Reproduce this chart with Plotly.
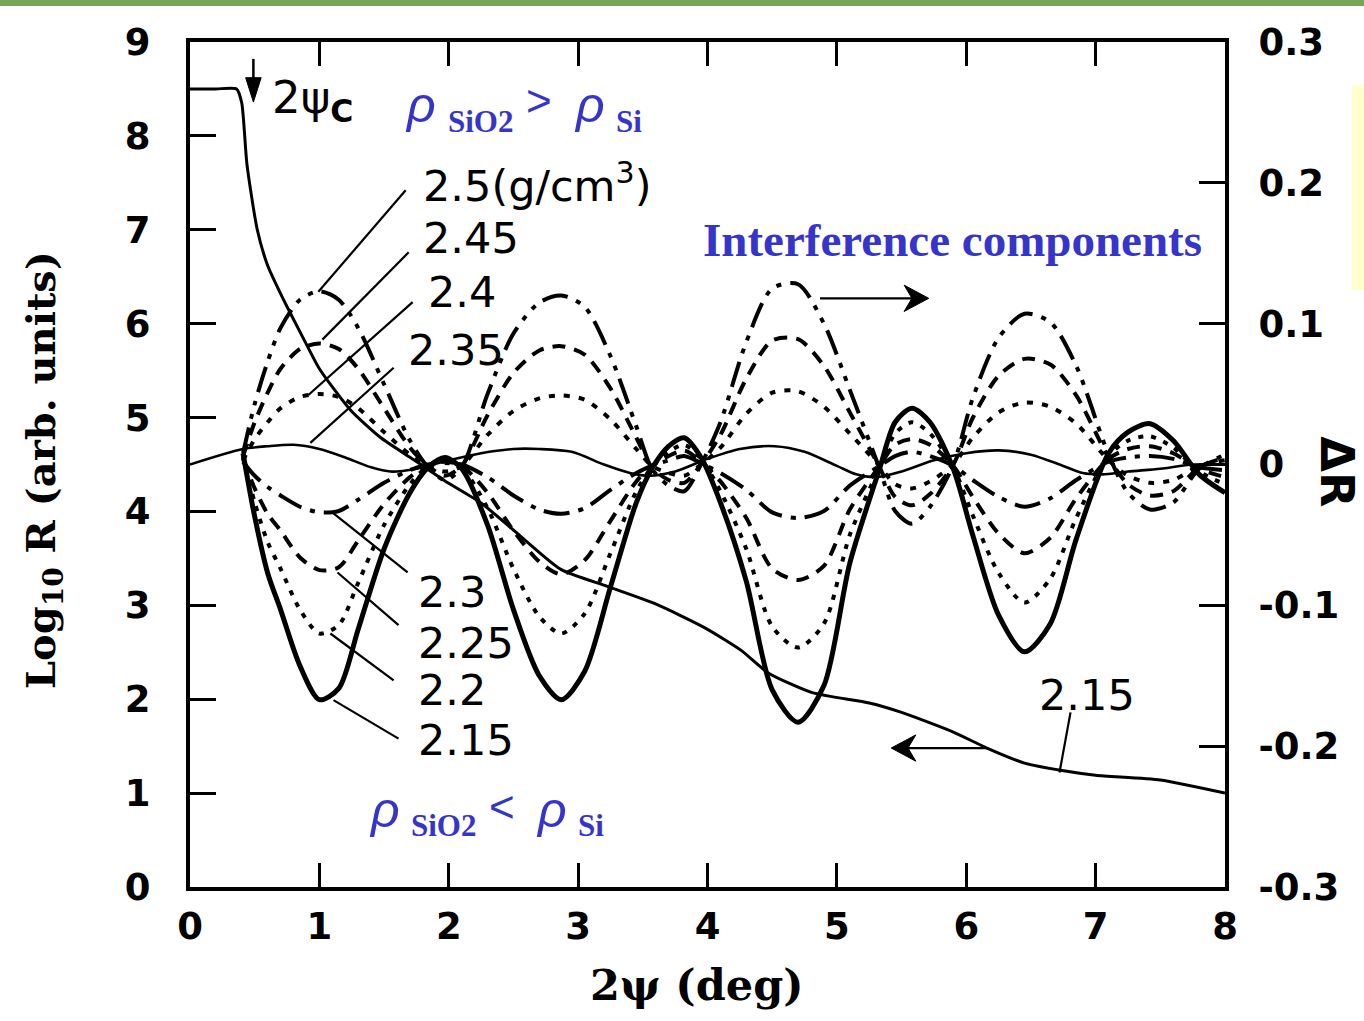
import plotly.graph_objects as go

# ---------------- data ----------------
# common x grid (2psi, deg) for interference components
x_int = [0.41, 0.5, 0.6, 0.7, 0.85, 1.0, 1.15, 1.3, 1.5, 1.7, 1.84, 1.97, 2.1, 2.3, 2.5, 2.7,
         2.87, 3.05, 3.25, 3.45, 3.57, 3.7, 3.82, 3.95, 4.1, 4.3, 4.5, 4.7, 4.9, 5.1, 5.33,
         5.45, 5.58, 5.72, 5.9, 6.05, 6.25, 6.45, 6.65, 6.85, 7.1, 7.25, 7.42, 7.6, 7.8, 8.0]

dR_250 = [0.008, 0.043, 0.073, 0.097, 0.117, 0.123, 0.117, 0.097, 0.057, 0.017, -0.002, -0.011,
          -0.002, 0.050, 0.093, 0.115, 0.120, 0.112, 0.077, 0.027, -0.003, -0.015, -0.019, 0.000,
          0.030, 0.087, 0.125, 0.128, 0.100, 0.053, -0.003, -0.033, -0.042, -0.030, 0.000, 0.047,
          0.090, 0.107, 0.101, 0.070, 0.007, -0.020, -0.032, -0.027, -0.003, 0.007]
dR_245 = [0.006, 0.030, 0.051, 0.068, 0.082, 0.086, 0.082, 0.068, 0.040, 0.012, -0.001, -0.008,
          -0.001, 0.035, 0.065, 0.081, 0.084, 0.078, 0.054, 0.019, -0.002, -0.011, -0.013, 0.000,
          0.021, 0.061, 0.088, 0.089, 0.070, 0.037, -0.002, -0.023, -0.029, -0.021, 0.000, 0.033,
          0.063, 0.075, 0.071, 0.049, 0.005, -0.014, -0.022, -0.019, -0.002, 0.005]
dR_240 = [0.003, 0.018, 0.030, 0.040, 0.048, 0.050, 0.048, 0.040, 0.023, 0.007, -0.001, -0.005,
          -0.001, 0.021, 0.038, 0.047, 0.049, 0.046, 0.032, 0.011, -0.001, -0.006, -0.008, 0.000,
          0.012, 0.036, 0.051, 0.052, 0.041, 0.022, -0.001, -0.014, -0.017, -0.012, 0.000, 0.019,
          0.037, 0.044, 0.041, 0.029, 0.003, -0.008, -0.013, -0.011, -0.001, 0.003]
dR_230 = [0.002, -0.008, -0.016, -0.022, -0.030, -0.034, -0.033, -0.025, -0.013, -0.004, 0.000, 0.001,
          0.000, -0.009, -0.022, -0.032, -0.035, -0.031, -0.018, -0.006, -0.001, 0.003, 0.006, 0.001,
          -0.006, -0.018, -0.034, -0.038, -0.033, -0.015, -0.001, 0.006, 0.009, 0.006, -0.001, -0.011,
          -0.023, -0.030, -0.024, -0.011, 0.002, 0.005, 0.006, 0.004, -0.002, -0.004]
dR_225 = [0.004, -0.017, -0.035, -0.047, -0.066, -0.075, -0.073, -0.054, -0.028, -0.009, -0.001, 0.002,
          -0.001, -0.020, -0.047, -0.069, -0.078, -0.068, -0.040, -0.012, -0.001, 0.006, 0.010, 0.002,
          -0.012, -0.038, -0.074, -0.082, -0.072, -0.032, -0.001, 0.014, 0.018, 0.014, -0.001, -0.023,
          -0.049, -0.063, -0.052, -0.024, 0.004, 0.011, 0.013, 0.008, -0.003, -0.009]
dR_220 = [0.006, -0.027, -0.055, -0.074, -0.103, -0.120, -0.114, -0.084, -0.043, -0.014, -0.001, 0.004,
          -0.002, -0.031, -0.074, -0.108, -0.120, -0.106, -0.063, -0.019, -0.002, 0.009, 0.014, 0.004,
          -0.019, -0.060, -0.115, -0.130, -0.113, -0.050, -0.002, 0.022, 0.030, 0.022, -0.002, -0.036,
          -0.077, -0.098, -0.081, -0.038, 0.006, 0.017, 0.020, 0.012, -0.005, -0.014]
dR_215 = [0.008, -0.037, -0.077, -0.103, -0.143, -0.167, -0.159, -0.117, -0.060, -0.020, -0.002, 0.005,
          -0.003, -0.043, -0.103, -0.150, -0.167, -0.147, -0.087, -0.027, -0.003, 0.013, 0.019, 0.005,
          -0.027, -0.083, -0.160, -0.183, -0.157, -0.070, -0.003, 0.030, 0.040, 0.030, -0.003, -0.050,
          -0.107, -0.133, -0.113, -0.053, 0.008, 0.023, 0.029, 0.017, -0.007, -0.020]

# 2.35 g/cm3 component (thin solid line)
x_235 = [0.0, 0.41, 0.6, 0.8, 1.0, 1.2, 1.4, 1.55, 1.75, 2.0, 2.25, 2.5, 2.7, 2.95, 3.2, 3.4, 3.55,
         3.75, 4.0, 4.25, 4.52, 4.75, 5.0, 5.15, 5.3, 5.5, 5.75, 6.0, 6.25, 6.5, 6.75, 6.9, 7.05,
         7.25, 7.5, 7.75, 8.0]
dR_235 = [0.0, 0.011, 0.013, 0.014, 0.011, 0.005, -0.002, -0.005, -0.003, 0.003, 0.008, 0.011, 0.011,
          0.009, 0.0, -0.006, -0.008, -0.005, 0.004, 0.011, 0.013, 0.009, -0.001, -0.007, -0.009,
          -0.005, 0.003, 0.008, 0.010, 0.007, -0.001, -0.006, -0.007, -0.005, -0.003, 0.0, 0.0]

# reflectivity curve (log10 R) for 2.15 g/cm3
x_R = [0.0, 0.2, 0.36, 0.4, 0.44, 0.52, 0.6, 0.7, 0.78, 0.9, 1.0, 1.24, 1.47, 1.73, 2.0, 2.25, 2.56,
       2.87, 3.23, 3.59, 3.98, 4.26, 4.47, 4.81, 5.25, 5.5, 5.9, 6.16, 6.45, 6.74, 7.0, 7.5, 8.0]
logR = [8.5, 8.5, 8.5, 8.35, 7.7, 7.0, 6.62, 6.32, 6.1, 5.78, 5.52, 5.08, 4.79, 4.55, 4.3, 4.09, 3.73,
        3.38, 3.2, 3.02, 2.76, 2.52, 2.28, 2.07, 1.96, 1.86, 1.65, 1.48, 1.32, 1.24, 1.19, 1.14, 1.0]

x_ticks = [0, 1, 2, 3, 4, 5, 6, 7, 8]
y_ticks = [0, 1, 2, 3, 4, 5, 6, 7, 8, 9]
y2_ticks = [-0.3, -0.2, -0.1, 0.0, 0.1, 0.2, 0.3]
y2_ticktext = ["-0.3", "-0.2", "-0.1", "0", "0.1", "0.2", "0.3"]

# ---------------- figure ----------------
fig = go.Figure()

SM = 0.8
comp = [
    (dR_250, "2.5", 4, "26px,9px,5px,9px,5px,9px"),
    (dR_245, "2.45", 4, "13px,9px"),
    (dR_240, "2.4", 4, "6px,9px"),
    (dR_230, "2.3", 4, "26px,9px,5px,9px"),
    (dR_225, "2.25", 4, "13px,9px"),
    (dR_220, "2.2", 4, "5px,8px"),
    (dR_215, "2.15", 5, "solid"),
]
for vals, name, w, dash in comp:
    fig.add_trace(go.Scatter(x=x_int, y=vals, yaxis="y2", mode="lines", name=name,
                             line=dict(color="black", width=w, dash=dash, shape="spline", smoothing=SM)))

fig.add_trace(go.Scatter(x=x_235, y=dR_235, yaxis="y2", mode="lines", name="2.35",
                         line=dict(color="black", width=2.6, shape="spline", smoothing=SM)))
fig.add_trace(go.Scatter(x=x_R, y=logR, yaxis="y", mode="lines", name="log R",
                         line=dict(color="black", width=3, shape="spline", smoothing=0.6)))

SANS = "DejaVu Sans, Liberation Sans, Arial, sans-serif"
SERIF = "Liberation Serif, Times New Roman, serif"
SLAB = "DejaVu Serif, Liberation Serif, serif"
tickfont = dict(family=SANS, size=37, color="black", weight="bold")

fig.update_layout(
    width=1364, height=1021,
    margin=dict(l=190, r=139, t=42, b=134),
    paper_bgcolor="white", plot_bgcolor="white",
    showlegend=False,
    xaxis=dict(range=[0, 8], tickvals=x_ticks, ticks="inside", ticklen=24, tickwidth=3,
               tickcolor="black", showline=True, linewidth=4, linecolor="black", mirror="ticks",
               showgrid=False, zeroline=False, tickfont=tickfont, ticklabelstandoff=4),
    yaxis=dict(range=[0, 9], tickvals=y_ticks, ticks="inside", ticklen=26, tickwidth=3,
               tickcolor="black", showline=True, linewidth=4, linecolor="black",
               showgrid=False, zeroline=False, tickfont=tickfont, ticklabelstandoff=28),
    yaxis2=dict(range=[-0.3, 0.3], tickvals=y2_ticks, ticktext=y2_ticktext, overlaying="y",
                side="right", ticks="inside", ticklen=26, tickwidth=3, tickcolor="black",
                showline=True, linewidth=4, linecolor="black", showgrid=False, zeroline=False,
                tickfont=tickfont, ticklabelstandoff=22),
)

ann = []
lab_font = dict(family=SANS, size=43, color="black")
labels = [
    ("2.5(g/cm<sup>3</sup>)", 1.783, 7.50), ("2.45", 1.783, 6.91), ("2.4", 1.822, 6.34),
    ("2.35", 1.667, 5.72), ("2.3", 1.744, 3.14), ("2.25", 1.744, 2.60), ("2.2", 1.744, 2.10),
    ("2.15", 1.744, 1.57), ("2.15", 6.55, 2.04),
]
for t, xx, yy in labels:
    ann.append(dict(text=t, x=xx, y=yy, xref="x", yref="y", xanchor="left", yanchor="middle",
                    showarrow=False, font=lab_font))

shapes = []
# leader lines
leaders = [
    (1.667, 7.42, 0.992, 6.34), (1.690, 6.76, 1.023, 5.83), (1.721, 6.23, 0.915, 5.24),
    (1.574, 5.53, 0.930, 4.73), (1.109, 3.98, 1.682, 3.35), (1.140, 3.35, 1.612, 2.79),
    (1.085, 2.70, 1.574, 2.20), (1.109, 1.99, 1.612, 1.58), (6.806, 1.86, 6.721, 1.22),
]
for x0, y0, x1, y1 in leaders:
    shapes.append(dict(type="line", xref="x", yref="y", x0=x0, y0=y0, x1=x1, y1=y1,
                       line=dict(color="black", width=2.2)))

# 2psi_c marker arrow (down)
shapes.append(dict(type="line", xref="x", yref="y", x0=0.49, y0=8.82, x1=0.49, y1=8.55,
                   line=dict(color="black", width=2.5)))
shapes.append(dict(type="path", xref="x", yref="y", path="M 0.43 8.62 L 0.55 8.62 L 0.49 8.36 Z",
                   fillcolor="black", line=dict(color="black", width=1)))
# direction arrows
shapes.append(dict(type="line", xref="x", yref="y", x0=4.87, y0=6.27, x1=5.62, y1=6.27,
                   line=dict(color="black", width=2.2)))
shapes.append(dict(type="path", xref="x", yref="y",
                   path="M 5.71 6.27 L 5.52 6.41 L 5.58 6.27 L 5.52 6.13 Z",
                   fillcolor="black", line=dict(color="black", width=1)))
shapes.append(dict(type="line", xref="x", yref="y", x0=5.52, y0=1.48, x1=6.17, y1=1.48,
                   line=dict(color="black", width=2.2)))
shapes.append(dict(type="path", xref="x", yref="y",
                   path="M 5.42 1.48 L 5.61 1.62 L 5.55 1.48 L 5.61 1.34 Z",
                   fillcolor="black", line=dict(color="black", width=1)))

ann.append(dict(text="2ψ<sub><b>C</b></sub>", x=0.62, y=8.38, xref="x", yref="y", xanchor="left",
                yanchor="middle", showarrow=False,
                font=dict(family=SANS, size=45, color="black")))

BLUE = "#3535CC"
ann.append(dict(text="<b>Interference components</b>", x=3.953, y=6.89, xref="x", yref="y",
                xanchor="left", yanchor="middle", showarrow=False,
                font=dict(family=SERIF, size=47, color=BLUE)))

rho_font = dict(family="Liberation Sans, Arial, sans-serif", size=50, color=BLUE, style="italic")
sub_font = dict(family=SERIF, size=31, color=BLUE, weight="bold")
cmp_font = dict(family="Liberation Sans, Arial, sans-serif", size=44, color=BLUE)
for (rx1, ry, sx1, sy, cx, cy, rx2, sx2, sym) in [
        (1.783, 8.33, 1.977, 8.15, 2.698, 8.38, 3.085, 3.279, ">"),
        (1.504, 0.82, 1.690, 0.65, 2.411, 0.86, 2.791, 2.984, "<")]:
    ann.append(dict(text="ρ", x=rx1, y=ry, xref="x", yref="y", xanchor="center", yanchor="middle",
                    showarrow=False, font=rho_font))
    ann.append(dict(text="SiO2", x=sx1, y=sy, xref="x", yref="y", xanchor="left", yanchor="middle",
                    showarrow=False, font=sub_font))
    ann.append(dict(text=sym, x=cx, y=cy, xref="x", yref="y", xanchor="center", yanchor="middle",
                    showarrow=False, font=cmp_font))
    ann.append(dict(text="ρ", x=rx2, y=ry, xref="x", yref="y", xanchor="center", yanchor="middle",
                    showarrow=False, font=rho_font))
    ann.append(dict(text="Si", x=sx2, y=sy, xref="x", yref="y", xanchor="left", yanchor="middle",
                    showarrow=False, font=sub_font))

# axis titles
ann.append(dict(text="Log<sub>10</sub> R (arb. units)", x=-0.141, y=0.4935, xref="paper", yref="paper",
                xanchor="center", yanchor="middle", textangle=-90, showarrow=False,
                font=dict(family=SLAB, size=40, color="black", weight="bold")))
ann.append(dict(text="2ψ (deg)", x=0.490, y=-0.116, xref="paper", yref="paper",
                xanchor="center", yanchor="middle", showarrow=False,
                font=dict(family=SLAB, size=43, color="black", weight="bold")))
ann.append(dict(text="ΔR", x=1.108, y=0.491, xref="paper", yref="paper",
                xanchor="center", yanchor="middle", textangle=90, showarrow=False,
                font=dict(family=SANS, size=46, color="black", weight="bold")))

# page decorations
shapes.append(dict(type="rect", xref="paper", yref="paper", x0=-0.19, x1=1.14, y0=1.0426, y1=1.06,
                   fillcolor="#78A55A", line=dict(width=0), layer="below"))
shapes.append(dict(type="rect", xref="paper", yref="paper", x0=1.1227, x1=1.14, y0=0.7065, y1=0.949,
                   fillcolor="#FFFFCC", line=dict(width=0), layer="below"))

fig.update_layout(annotations=ann, shapes=shapes)
fig.write_html("out.html")
